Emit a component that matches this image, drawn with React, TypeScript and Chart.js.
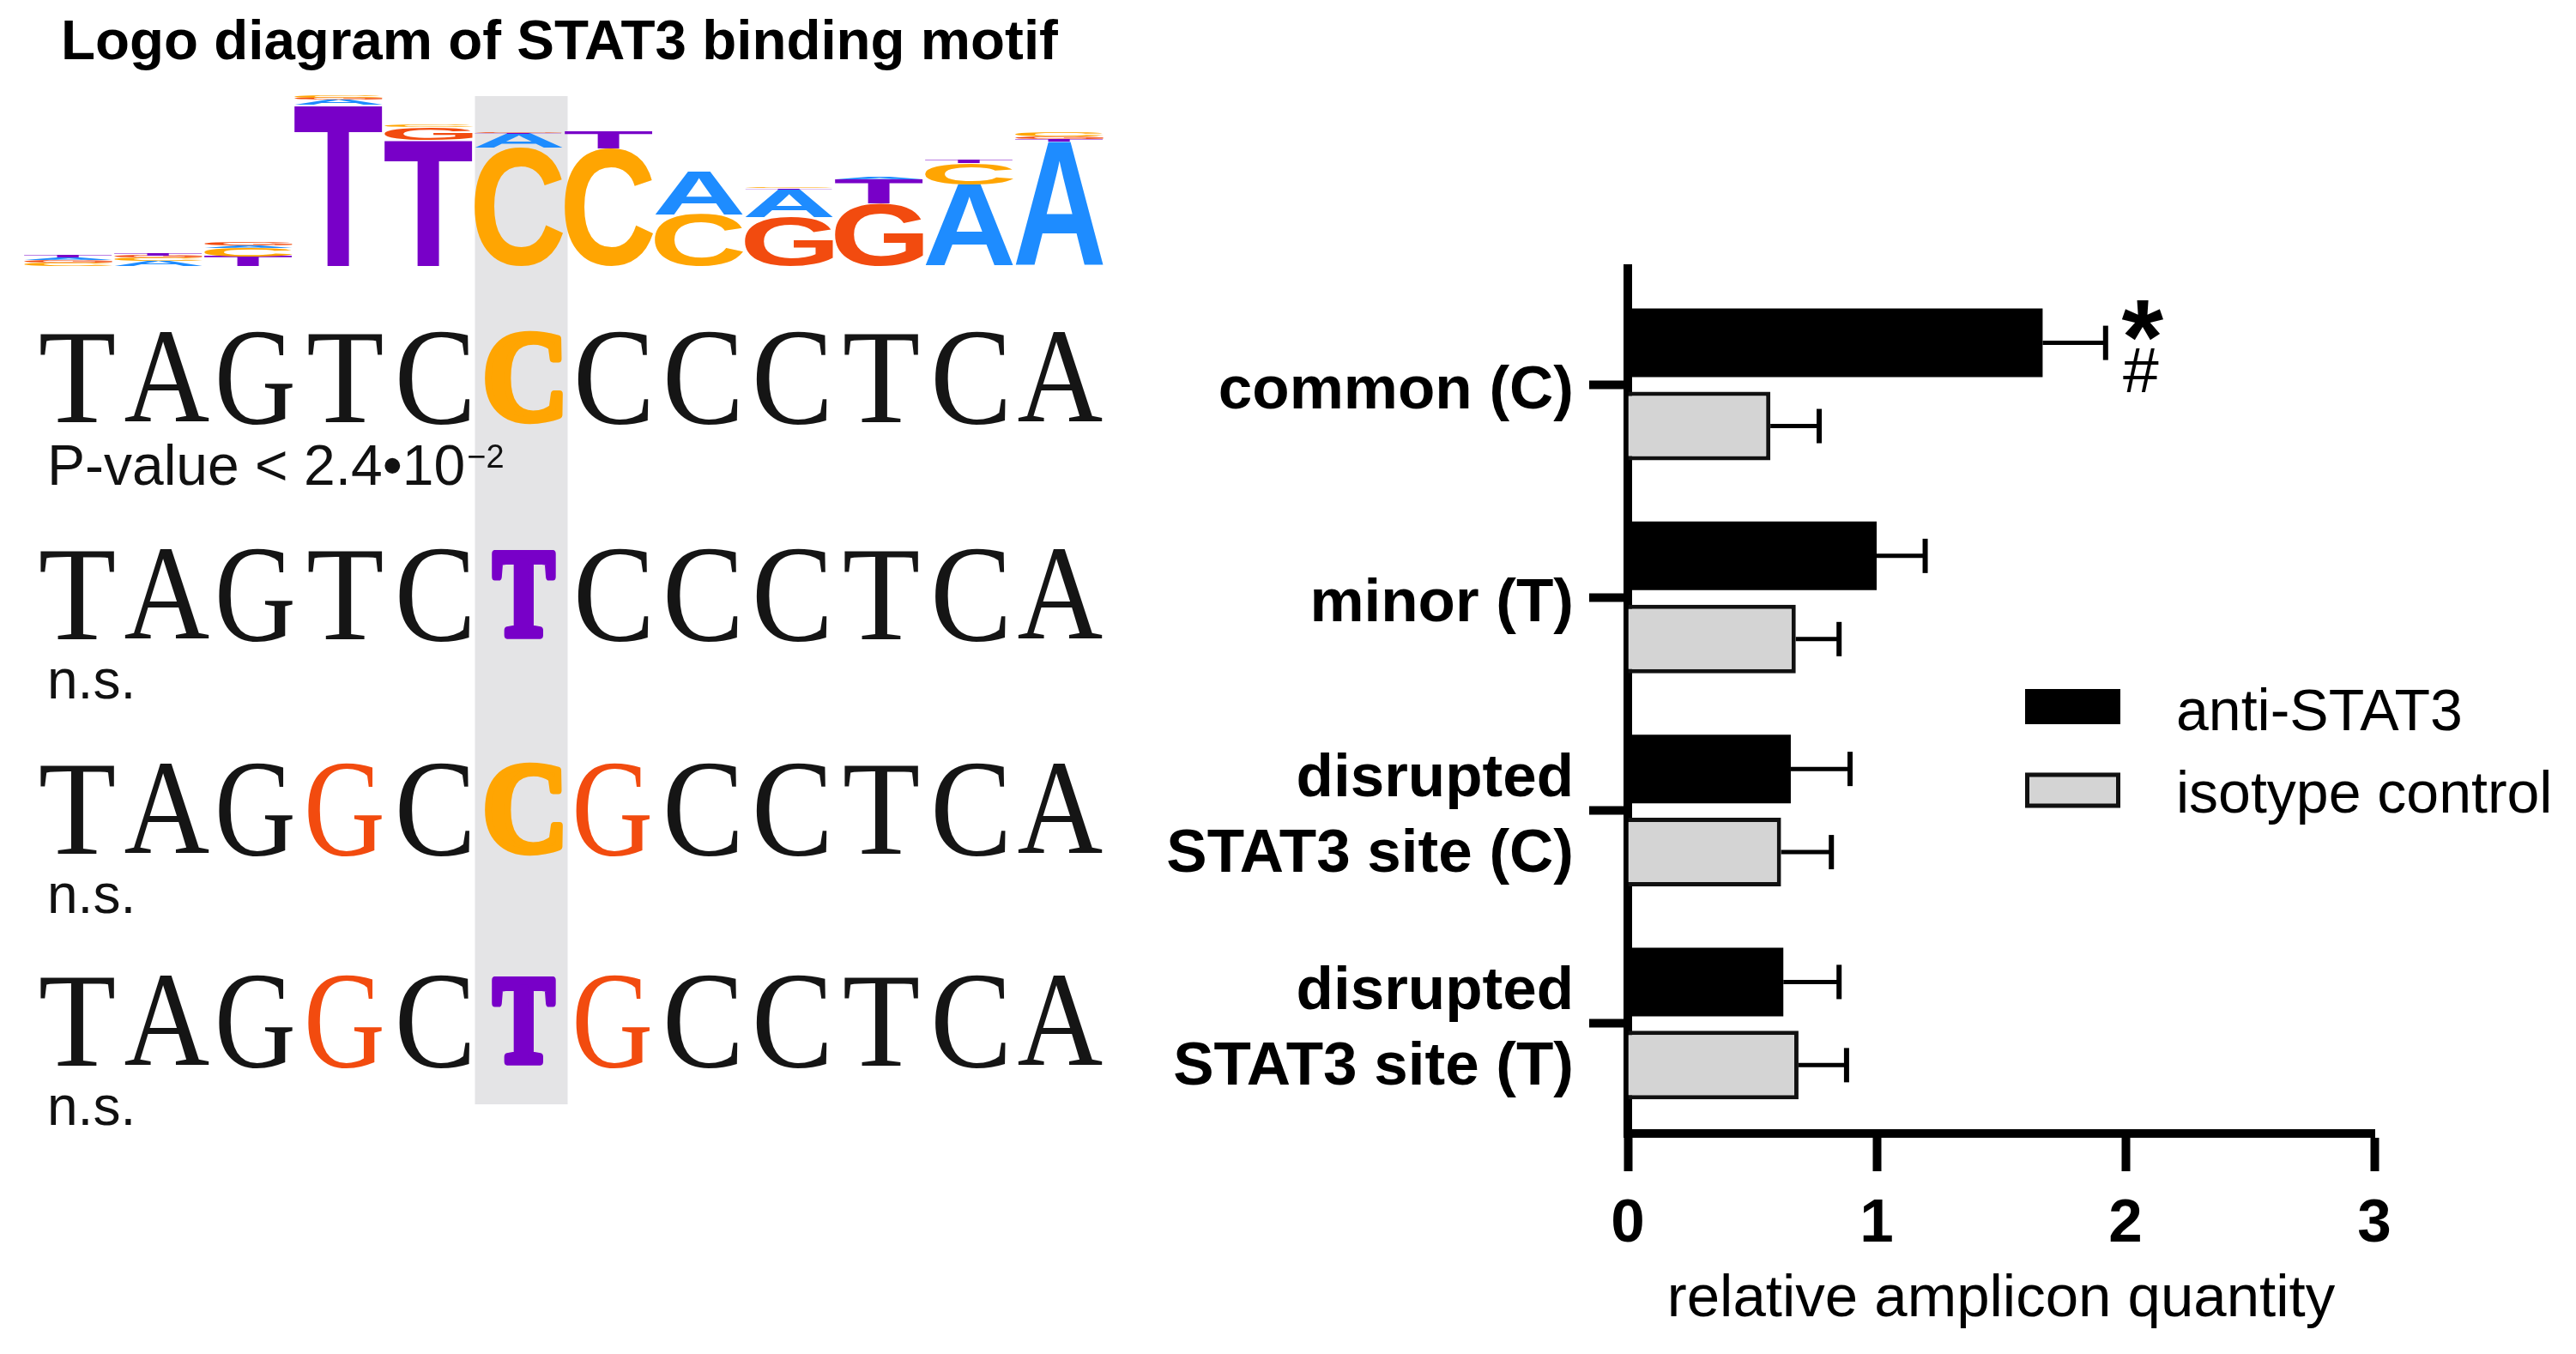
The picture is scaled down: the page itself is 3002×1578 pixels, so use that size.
import React, { useEffect, useRef } from 'react';
import { Chart, registerables } from 'chart.js';

Chart.register(...registerables);

// ---------------- data ----------------
const categories: string[][] = [
  ['common (C)'],
  ['minor (T)'],
  ['disrupted', 'STAT3 site (C)'],
  ['disrupted', 'STAT3 site (T)'],
];
const seriesLabels = ['anti-STAT3', 'isotype control'];
const antiSTAT3 = [1.667, 1.0, 0.655, 0.625];
const antiSTAT3Err = [0.253, 0.195, 0.238, 0.224];
const isotype = [0.573, 0.675, 0.616, 0.686];
const isotypeErr = [0.196, 0.174, 0.202, 0.193];
const xTicks = [0, 1, 2, 3];
const xTitle = 'relative amplicon quantity';
const significance = ['*', '#']; // marks on common (C) anti-STAT3

const figureTitle = 'Logo diagram of STAT3 binding motif';
// logo columns, letters bottom-to-top with their height in bits
const logoColumns: [string, number][][] = [
  [['C', 0.04], ['G', 0.03], ['A', 0.03], ['T', 0.03]],
  [['A', 0.06], ['C', 0.04], ['G', 0.02], ['T', 0.03]],
  [['T', 0.11], ['C', 0.1], ['A', 0.03], ['G', 0.04]],
  [['T', 1.88], ['A', 0.06], ['G', 0.02], ['C', 0.02]],
  [['T', 1.47], ['G', 0.15], ['C', 0.02]],
  [['C', 1.38], ['A', 0.16], ['T', 0.01], ['G', 0.01]],
  [['C', 1.37], ['T', 0.21]],
  [['C', 0.6], ['A', 0.5]],
  [['G', 0.57], ['A', 0.32], ['T', 0.015], ['C', 0.015]],
  [['G', 0.73], ['T', 0.28], ['A', 0.02]],
  [['A', 0.95], ['C', 0.25], ['T', 0.04]],
  [['A', 1.45], ['T', 0.03], ['G', 0.03], ['C', 0.05]],
];
const sequences = ['TAGTCCCCCTCA', 'TAGTCTCCCTCA', 'TAGGCCGCCTCA', 'TAGGCTGCCTCA'];
const snpIndex = 5;
const seqNotes = ['P-value < 2.4•10', 'n.s.', 'n.s.', 'n.s.'];
const seqNoteExponents = ['−2', '', '', ''];

// ---------------- styles ----------------
const SANS = "'Liberation Sans', Arial, Helvetica, sans-serif";
const SERIF = "'Liberation Serif', 'Times New Roman', serif";
const NUC: Record<string, string> = { A: '#1E8CFF', C: '#FFA502', G: '#F24B0F', T: '#7800C8' };
const SEQ_W: Record<string, number> = { T: 86, A: 98, G: 86, C: 82 };
const SEQ_W_BOLD: Record<string, number> = { T: 76, C: 92 };

function fitGlyph(
  ctx: CanvasRenderingContext2D, ch: string, font: string,
  x: number, yTop: number, w: number, h: number, color: string, thicken = 0,
) {
  if (h < 0.5) return;
  ctx.save();
  ctx.font = font;
  const m = ctx.measureText(ch);
  const gw = m.actualBoundingBoxLeft + m.actualBoundingBoxRight;
  const gh = m.actualBoundingBoxAscent + m.actualBoundingBoxDescent;
  const iw = w - thicken;
  const ih = h - thicken;
  const sx = iw / gw;
  const sy = ih / gh;
  ctx.translate(x + thicken / 2, yTop + thicken / 2);
  ctx.scale(sx, sy);
  ctx.fillStyle = color;
  ctx.textAlign = 'left';
  ctx.textBaseline = 'alphabetic';
  ctx.fillText(ch, m.actualBoundingBoxLeft, m.actualBoundingBoxAscent);
  if (thicken > 0) {
    ctx.strokeStyle = color;
    ctx.lineJoin = 'round';
    ctx.lineWidth = thicken / Math.sqrt(sx * sy);
    ctx.strokeText(ch, m.actualBoundingBoxLeft, m.actualBoundingBoxAscent);
  }
  ctx.restore();
}

const leftPanelPlugin = {
  id: 'leftPanel',
  beforeDraw(chart: any) {
    const ctx: CanvasRenderingContext2D = chart.ctx;
    ctx.save();
    ctx.fillStyle = '#fff';
    ctx.fillRect(0, 0, chart.width, chart.height);

    // title
    ctx.fillStyle = '#000';
    ctx.font = `bold 65.5px ${SANS}`;
    ctx.textAlign = 'left';
    ctx.textBaseline = 'alphabetic';
    ctx.fillText(figureTitle, 71, 69);

    // highlight band
    const seqX0 = 90;
    const seqPitch = 104.1;
    const bandCx = seqX0 + snpIndex * seqPitch - 3;
    ctx.fillStyle = '#E4E4E6';
    ctx.fillRect(bandCx - 54, 112, 108, 1175);

    // logo
    const logoBase = 310;
    const pxPerBit = 100;
    const logoX0 = 79.5;
    const logoPitch = 105;
    logoColumns.forEach((col, k) => {
      let y = logoBase;
      const cx = logoX0 + k * logoPitch;
      col.forEach(([ch, bits]) => {
        const h = bits * pxPerBit;
        fitGlyph(ctx, ch, `bold 200px ${SANS}`, cx - 51.5, y - h, 103, h, NUC[ch]);
        y -= h;
      });
    });

    // sequences
    const baselines = [492, 745, 995, 1242];
    const capH = 103;
    sequences.forEach((seq, r) => {
      for (let i = 0; i < seq.length; i++) {
        const ch = seq[i];
        const isSnp = i === snpIndex;
        const differs = ch !== sequences[0][i];
        const round = ch === 'C' || ch === 'G';
        const h = round ? capH + 5 : capH;
        const top = baselines[r] - capH - (round ? 2.5 : 0);
        const w = isSnp ? SEQ_W_BOLD[ch] ?? SEQ_W[ch] : SEQ_W[ch];
        const font = `${isSnp ? 'bold ' : ''}200px ${SERIF}`;
        const color = isSnp || differs ? NUC[ch] : '#151515';
        fitGlyph(ctx, ch, font, seqX0 + i * seqPitch - w / 2, top, w, h, color, isSnp ? 8 : 0);
      }
      // note
      ctx.fillStyle = '#111';
      ctx.textAlign = 'left';
      ctx.textBaseline = 'alphabetic';
      ctx.font = `${r === 0 ? 66 : 64}px ${SANS}`;
      const nb = baselines[r] + (r === 0 ? 73 : 69);
      ctx.fillText(seqNotes[r], 55, nb);
      if (seqNoteExponents[r]) {
        const w = ctx.measureText(seqNotes[r]).width;
        ctx.font = `38px ${SANS}`;
        ctx.fillText(seqNoteExponents[r], 55 + w + 2, nb - 20);
      }
    });
    ctx.restore();
  },
};

const errorBarPlugin = {
  id: 'errorBars',
  afterDatasetsDraw(chart: any) {
    const ctx: CanvasRenderingContext2D = chart.ctx;
    const xs = chart.scales.x;
    const errs = [antiSTAT3Err, isotypeErr];
    const vals = [antiSTAT3, isotype];
    ctx.save();
    ctx.strokeStyle = '#000';
    ctx.lineCap = 'butt';
    chart.data.datasets.forEach((ds: any, d: number) => {
      const meta = chart.getDatasetMeta(d);
      meta.data.forEach((bar: any, i: number) => {
        const x0 = xs.getPixelForValue(vals[d][i]);
        const x1 = xs.getPixelForValue(vals[d][i] + errs[d][i]);
        const y = bar.y;
        ctx.lineWidth = 5;
        ctx.beginPath();
        ctx.moveTo(x0, y);
        ctx.lineTo(x1, y);
        ctx.stroke();
        ctx.lineWidth = 6;
        ctx.beginPath();
        ctx.moveTo(x1, y - 20);
        ctx.lineTo(x1, y + 20);
        ctx.stroke();
      });
    });
    // significance marks next to common (C) anti-STAT3
    const ax = xs.getPixelForValue(antiSTAT3[0] + antiSTAT3Err[0]) + 43;
    ctx.fillStyle = '#000';
    ctx.textAlign = 'center';
    ctx.textBaseline = 'alphabetic';
    ctx.font = `bold 125px ${SANS}`;
    const m = ctx.measureText(significance[0]);
    ctx.fillText(significance[0], ax, 350 + m.actualBoundingBoxAscent);
    ctx.font = `75px ${SANS}`;
    ctx.fillText(significance[1], ax - 2, 457);
    ctx.restore();
  },
};

const legendPlugin = {
  id: 'customLegend',
  afterDraw(chart: any) {
    const ctx: CanvasRenderingContext2D = chart.ctx;
    const rows = [823.5, 921];
    const baselines = [851, 947];
    ctx.save();
    chart.data.datasets.forEach((ds: any, d: number) => {
      const cy = rows[d];
      ctx.fillStyle = ds.backgroundColor;
      ctx.fillRect(2360, cy - 20.5, 111, 41);
      if (ds.borderWidth > 0) {
        ctx.strokeStyle = ds.borderColor;
        ctx.lineWidth = ds.borderWidth;
        ctx.strokeRect(2360 + 2.5, cy - 18, 106, 36);
      }
      ctx.fillStyle = '#000';
      ctx.font = `68px ${SANS}`;
      ctx.textAlign = 'left';
      ctx.textBaseline = 'alphabetic';
      ctx.fillText(ds.label, 2536, baselines[d]);
    });
    ctx.restore();
  },
};

export default function App() {
  const ref = useRef<HTMLCanvasElement | null>(null);
  useEffect(() => {
    if (!ref.current) return;
    const chart = new Chart(ref.current, {
      type: 'bar',
      data: {
        datasets: [
          {
            label: seriesLabels[0],
            data: antiSTAT3.map((v, i) => ({ x: v, y: i })),
            backgroundColor: '#000',
            borderColor: '#000',
            borderWidth: 0,
            categoryPercentage: 0.781,
            barPercentage: 0.825,
          },
          {
            label: seriesLabels[1],
            data: isotype.map((v, i) => ({ x: v, y: i })),
            backgroundColor: '#D4D4D4',
            borderColor: '#111',
            borderWidth: 5,
            categoryPercentage: 0.781,
            barPercentage: 0.825,
          },
        ] as any,
      },
      options: {
        indexAxis: 'y',
        responsive: false,
        animation: false,
        devicePixelRatio: 1,
        layout: { padding: { left: 1097, right: 235, top: 313, bottom: 17 } },
        plugins: {
          legend: { display: false },
          tooltip: { enabled: false },
          title: { display: false },
        },
        scales: {
          x: {
            type: 'linear',
            position: 'bottom',
            min: 0,
            max: 3,
            afterBuildTicks: (s: any) => {
              s.ticks = xTicks.map((v) => ({ value: v }));
            },
            afterFit: (s: any) => {
              s.height = 240;
            },
            grid: {
              display: true,
              drawOnChartArea: false,
              drawTicks: true,
              tickLength: 44,
              tickWidth: 10,
              tickColor: '#000',
              color: '#000',
            },
            border: { display: true, width: 10, color: '#000' },
            ticks: {
              autoSkip: false,
              maxRotation: 0,
              color: '#000',
              padding: 20,
              font: { family: SANS, size: 71, weight: 'bold' },
            },
            title: {
              display: true,
              text: xTitle,
              color: '#000',
              font: { family: SANS, size: 69 },
              padding: { top: 0, bottom: 5 },
            },
          },
          y: {
            type: 'linear',
            position: 'left',
            reverse: true,
            offset: false,
            min: -0.544,
            max: 3.516,
            afterBuildTicks: (s: any) => {
              s.ticks = categories.map((_, i) => ({ value: i }));
            },
            afterFit: (s: any) => {
              s.width = 800;
            },
            grid: {
              display: true,
              offset: false,
              drawOnChartArea: false,
              drawTicks: true,
              tickLength: 45,
              tickWidth: 10,
              tickColor: '#000',
              color: '#000',
            },
            border: { display: true, width: 10, color: '#000' },
            ticks: {
              autoSkip: false,
              color: '#000',
              padding: 18,
              labelOffset: 8,
              font: { family: SANS, size: 71, weight: 'bold', lineHeight: 1.24 },
              callback: (v: any) => categories[Math.round(Number(v))] ?? '',
            },
          },
        },
      } as any,
      plugins: [leftPanelPlugin, errorBarPlugin, legendPlugin],
    });
    return () => chart.destroy();
  }, []);

  return (
    <div style={{ position: 'absolute', left: 0, top: 0, width: 3002, height: 1578, background: '#fff' }}>
      <canvas ref={ref} width={3002} height={1578} style={{ display: 'block', width: 3002, height: 1578 }} />
    </div>
  );
}
